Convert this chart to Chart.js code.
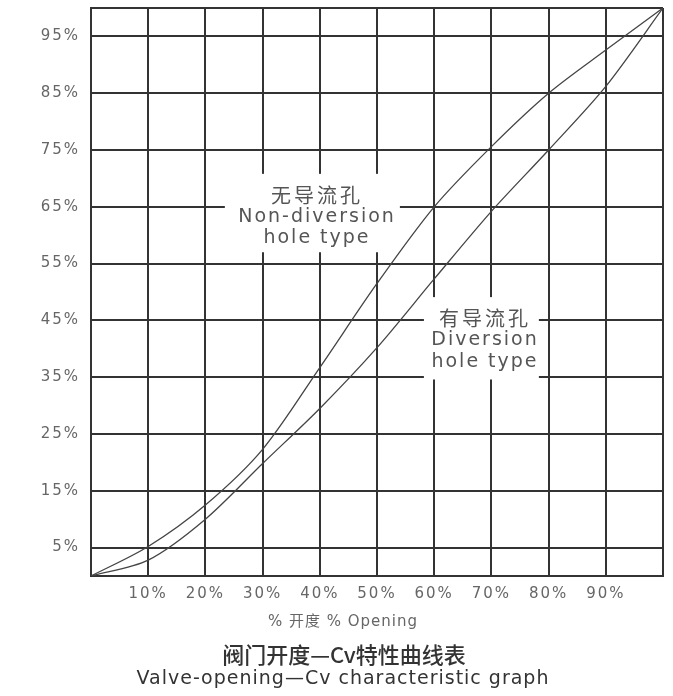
<!DOCTYPE html>
<html>
<head>
<meta charset="utf-8">
<script src="https://cdn.jsdelivr.net/npm/chart.js@4/dist/chart.umd.min.js"></script>
<style>
    body { margin: 0; background: #fff; }
    #wrap { width: 673px; height: 696px; }
</style>
</head>
<body>
<div id="wrap"><canvas id="chart" width="673" height="696"></canvas></div>
<script>
// valve opening (%) where each curve was read
const opening = [0, 10, 20, 30, 40, 50, 60, 70, 80, 90, 100];
const cvNonDiv = [0, 5.2, 12.5, 22.3, 36.7, 51.5, 65, 75.6, 85, 92.6, 100];
const cvDiv    = [0, 2.8, 10, 19.8, 29.5, 40.2, 52.3, 64.2, 75, 86.2, 100];

const xTicks = [0, 10, 20, 30, 40, 50, 60, 70, 80, 90, 100];
const xTickLabels = ["", "10%", "20%", "30%", "40%", "50%", "60%", "70%", "80%", "90%", ""];
const yTicks = [0, 5, 15, 25, 35, 45, 55, 65, 75, 85, 95, 100];
const yTickLabels = ["", "5%", "15%", "25%", "35%", "45%", "55%", "65%", "75%", "85%", "95%", ""];

const nonDivLabel = ["无导流孔", "Non-diversion", "hole type"];
const divLabel = ["有导流孔", "Diversion", "hole type"];
const xTitle = "% 开度 % Opening";
const titleCn = "阀门开度—Cv特性曲线表";
const titleEn = "Valve-opening—Cv characteristic graph";

// label boxes in data units: [xMin, xMax, yMin, yMax], line centres in px
const boxes = [
    { rect: [23.4, 54, 57, 70.8], cx: 316, lines: [195, 217, 238], text: nonDivLabel },
    { rect: [58.2, 78.3, 34.6, 49.1], cx: 484, lines: [318, 340, 362], text: divLabel }
];

function toPoints(xs, ys)
{
    return xs.map((x, i) => ({ x: x, y: ys[i] }));
}

const labelPlugin =
{
    id: "labelBoxes",
    beforeDraw(chart)
    {
        chart.ctx.letterSpacing = "2px";
    },
    beforeDatasetsDraw(chart)
    {
        const ctx = chart.ctx;
        const xs = chart.scales.x;
        const ys = chart.scales.y;

        ctx.save();
        ctx.fillStyle = "#fff";

        boxes.forEach(b =>
        {
            const l = xs.getPixelForValue(b.rect[0]);
            const r = xs.getPixelForValue(b.rect[1]);
            const t = ys.getPixelForValue(b.rect[3]);
            const btm = ys.getPixelForValue(b.rect[2]);
            ctx.fillRect(l, t, r - l, btm - t);
        });

        ctx.fillStyle = "#555";
        ctx.textAlign = "center";
        ctx.textBaseline = "middle";

        boxes.forEach(b =>
        {
            ctx.letterSpacing = "3px";
            ctx.font = "20px 'Noto Sans CJK SC'";
            ctx.fillText(b.text[0], b.cx + 1, b.lines[0]);

            ctx.letterSpacing = "2px";
            ctx.font = "19px 'DejaVu Sans'";
            ctx.fillText(b.text[1], b.cx + 1, b.lines[1]);
            ctx.fillText(b.text[2], b.cx + 1, b.lines[2]);
        });

        ctx.restore();
    },
    afterDraw(chart)
    {
        const ctx = chart.ctx;

        ctx.save();
        ctx.textAlign = "center";
        ctx.textBaseline = "middle";

        ctx.fillStyle = "#666";
        ctx.letterSpacing = "1px";
        ctx.font = "15px 'DejaVu Sans', 'Noto Sans CJK SC'";
        ctx.fillText(xTitle, 343, 622);

        ctx.fillStyle = "#333";
        ctx.letterSpacing = "0px";
        ctx.font = "500 22px 'Noto Sans CJK SC'";
        ctx.fillText(titleCn, 344, 655);

        ctx.letterSpacing = "1px";
        ctx.font = "19px 'DejaVu Sans'";
        ctx.fillText(titleEn, 343, 679);

        ctx.restore();
        ctx.letterSpacing = "0px";
    }
};

chart = new Chart(
    document.getElementById("chart"),
    {
        type: "line",
        data:
        {
            datasets: [
                {
                    label: "Non-diversion hole type",
                    data: toPoints(opening, cvNonDiv),
                    borderColor: "#444",
                    borderWidth: 1.3,
                    pointRadius: 0,
                    tension: 0.3
                },
                {
                    label: "Diversion hole type",
                    data: toPoints(opening, cvDiv),
                    borderColor: "#444",
                    borderWidth: 1.3,
                    pointRadius: 0,
                    tension: 0.3
                }
            ]
        },
        options:
        {
            responsive: false,
            animation: false,
            layout: { padding: { top: 8, right: 10, left: 0, bottom: 0 } },
            plugins:
            {
                legend: { display: false },
                tooltip: { enabled: false }
            },
            scales:
            {
                x:
                {
                    type: "linear",
                    min: 0,
                    max: 100,
                    afterBuildTicks: s => { s.ticks = xTicks.map(v => ({ value: v })); },
                    afterFit: s =>
                    {
                        s.height = 120;
                        s.paddingLeft = 0;
                        s.paddingRight = 0;
                    },
                    grid: { color: "#333", lineWidth: 2, drawTicks: false },
                    border: { color: "#333", width: 2 },
                    ticks:
                    {
                        padding: 9,
                        color: "#666",
                        maxRotation: 0,
                        autoSkip: false,
                        font: { family: "'DejaVu Sans'", size: 15 },
                        callback: (v, i) => xTickLabels[i]
                    }
                },
                y:
                {
                    type: "linear",
                    min: 0,
                    max: 100,
                    afterBuildTicks: s => { s.ticks = yTicks.map(v => ({ value: v })); },
                    afterFit: s =>
                    {
                        s.width = 91;
                        s.paddingTop = 0;
                        s.paddingBottom = 0;
                    },
                    grid: { color: "#333", lineWidth: 2, drawTicks: false },
                    border: { color: "#333", width: 2 },
                    ticks:
                    {
                        padding: 11,
                        color: "#666",
                        autoSkip: false,
                        font: { family: "'DejaVu Sans'", size: 15 },
                        callback: (v, i) => yTickLabels[i]
                    }
                }
            }
        },
        plugins: [labelPlugin]
    }
);
</script>
</body>
</html>
